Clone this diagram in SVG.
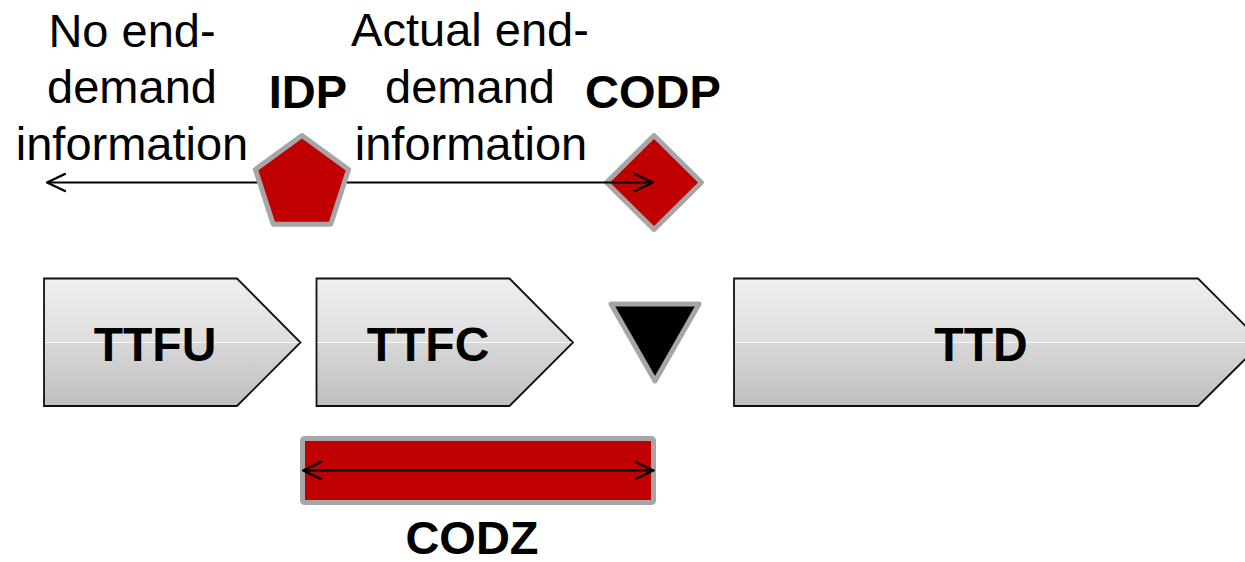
<svg xmlns="http://www.w3.org/2000/svg" width="1245" height="562" viewBox="0 0 1245 562">
  <style>
    .lbl { font-family: "Liberation Sans", Arial, sans-serif; font-size: 47px; fill: #000; text-anchor: middle; }
    .bold { font-weight: bold; }
    .blk { font-family: "Liberation Sans", Arial, sans-serif; font-size: 48px; font-weight: bold; fill: #000; text-anchor: middle; }
    .stage { fill: url(#stageFill); stroke: #111; stroke-width: 1.8; stroke-linejoin: miter; }
    .sheen { stroke: #ffffff; stroke-opacity: 0.85; stroke-width: 1.2; }
    .mark { fill: #c00000; stroke: #a6a6a8; stroke-width: 5; stroke-linejoin: round; }
    .conn { fill: none; stroke: #000; stroke-width: 2; }
  </style>
  <defs>
    <linearGradient id="stageFill" x1="0" y1="0" x2="0" y2="1">
      <stop offset="0" stop-color="#eeeeee"/>
      <stop offset="0.5" stop-color="#dedede"/>
      <stop offset="0.5" stop-color="#d8d8d8"/>
      <stop offset="1" stop-color="#bfbfbf"/>
    </linearGradient>
    <marker id="open" viewBox="0 0 20 20" refX="19" refY="10" markerWidth="20" markerHeight="20" markerUnits="userSpaceOnUse" orient="auto-start-reverse">
      <path d="M1,1.5 L19,10 L1,18.5" fill="none" stroke="#000" stroke-width="2.4" stroke-linecap="round"/>
    </marker>
  </defs>

  <!-- top labels -->
  <g id="no-demand-info">
    <text class="lbl" x="132" y="47">No end-</text>
    <text class="lbl" x="132" y="103">demand</text>
    <text class="lbl" x="132" y="160">information</text>
  </g>
  <g id="actual-demand-info">
    <text class="lbl" x="470" y="46">Actual end-</text>
    <text class="lbl" x="470" y="103">demand</text>
    <text class="lbl" x="471" y="160">information</text>
  </g>

  <!-- CODP diamond (below the arrow) -->
  <g id="codp">
    <polygon class="mark" points="654,135.5 701.5,182.5 654,229.5 606.5,182.5"/>
    <text class="lbl bold" x="653" y="108">CODP</text>
  </g>

  <!-- process stages -->
  <g id="ttfu">
    <polygon class="stage" points="44,278.5 237,278.5 300.5,342.5 237,406 44,406"/>
    <line class="sheen" x1="45" y1="342.5" x2="299.5" y2="342.5"/>
    <text class="blk" x="155" y="361">TTFU</text>
  </g>
  <g id="ttfc">
    <polygon class="stage" points="316.5,278.5 509.5,278.5 573,342.5 509.5,406 316.5,406"/>
    <line class="sheen" x1="317.5" y1="342.5" x2="572" y2="342.5"/>
    <text class="blk" x="428" y="361">TTFC</text>
  </g>
  <g id="ttd">
    <polygon class="stage" points="734,278.5 1198,278.5 1262,342.5 1198,406 734,406"/>
    <line class="sheen" x1="735" y1="342.5" x2="1261" y2="342.5"/>
    <text class="blk" x="981" y="361">TTD</text>
  </g>

  <!-- decoupling marker -->
  <g id="decoupling">
    <polygon points="611,304 699,304 655,381" fill="#000" stroke="#a6a6a8" stroke-width="5" stroke-linejoin="round"/>
  </g>

  <!-- CODZ band (below its span arrow) -->
  <g id="codz">
    <rect x="302.5" y="438.5" width="351" height="64" rx="2" fill="#c00000" stroke="#a6a6a8" stroke-width="5"/>
    <text class="lbl bold" x="472" y="554">CODZ</text>
  </g>

  <!-- connectors -->
  <g id="connectors">
    <line class="conn" x1="302" y1="182.5" x2="47" y2="182.5" marker-end="url(#open)"/>
    <line class="conn" x1="302" y1="182.5" x2="653" y2="182.5" marker-end="url(#open)"/>
    <line class="conn" x1="303" y1="470.5" x2="653.5" y2="470.5" stroke-width="3" marker-start="url(#open)" marker-end="url(#open)"/>
  </g>

  <!-- IDP pentagon (covers the arrow origin) -->
  <g id="idp">
    <polygon class="mark" points="302,135.5 348.6,169.4 330.8,224.2 273.2,224.2 255.4,169.4"/>
    <text class="lbl bold" x="308" y="108">IDP</text>
  </g>
</svg>
